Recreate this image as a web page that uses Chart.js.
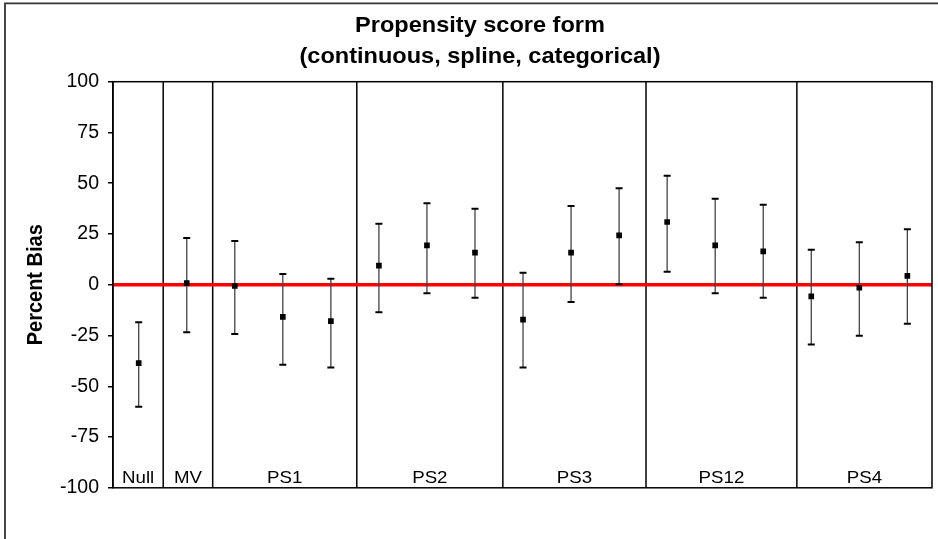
<!DOCTYPE html>
<html>
<head>
<meta charset="utf-8">
<script src="https://cdn.jsdelivr.net/npm/chart.js@4.4.1/dist/chart.umd.min.js"></script>
<style>
  html, body { margin: 0; padding: 0; background: #fff; }
  #wrap { width: 938px; height: 539px; position: relative; }
</style>
</head>
<body>
<div id="wrap"><canvas id="c" width="938" height="539"></canvas></div>
<script>
// Model groups and where the separators between them fall on the x axis
const groupNames = ['Null', 'MV', 'PS1', 'PS2', 'PS3', 'PS12', 'PS4'];
const groupEdges = [1.51, 2.54, 5.54, 8.58, 11.56, 14.70];

// Percent bias estimates with lower / upper interval limits, one per model fit
const estimate = [-38.6, 0.8, -0.6, -15.8, -17.9, 9.4, 19.4, 15.8, -17.2, 15.8, 24.3, 30.9, 19.4, 16.4, -5.7, -1.5, 4.4];
const lower    = [-60.1, -23.4, -24.3, -39.4, -40.7, -13.6, -4.2, -6.4, -40.7, -8.5, 0.2, 6.4, -4.2, -6.4, -29.4, -25.1, -19.2];
const upper    = [-18.5, 23.0, 21.5, 5.3, 3.0, 30.0, 40.1, 37.4, 5.9, 38.8, 47.5, 53.7, 42.4, 39.4, 17.2, 20.9, 27.3];

// Y axis tick values
const yTicks = [-100, -75, -50, -25, 0, 25, 50, 75, 100];

const titleLines = ['Propensity score form', '(continuous, spline, categorical)'];
const yTitle = 'Percent Bias';

const X_MIN = 0.465, X_MAX = 17.513;
const FONT = "'Liberation Sans', Arial, Helvetica, sans-serif";

const chartDecor = {
  id: 'chartDecor',
  beforeDraw(chart) {
    const c = chart.ctx;
    c.save();
    c.fillStyle = '#fff';
    c.fillRect(0, 0, chart.width, chart.height);
    c.restore();
  },
  beforeDatasetsDraw(chart) {
    const c = chart.ctx, a = chart.chartArea, xs = chart.scales.x;
    c.save();
    c.strokeStyle = '#000';
    c.lineWidth = 1.5;
    groupEdges.forEach(v => {
      const px = xs.getPixelForValue(v);
      c.beginPath();
      c.moveTo(px, a.top);
      c.lineTo(px, a.bottom);
      c.stroke();
    });
    c.restore();
  },
  afterDatasetDraw(chart, args) {
    if (args.index !== 0) return;
    // interval whiskers
    const c = chart.ctx, xs = chart.scales.x, ys = chart.scales.y;
    c.save();
    estimate.forEach((_, i) => {
      const px = xs.getPixelForValue(i + 1);
      const yl = ys.getPixelForValue(lower[i]);
      const yu = ys.getPixelForValue(upper[i]);
      c.strokeStyle = '#444';
      c.lineWidth = 1.3;
      c.beginPath();
      c.moveTo(px, yl);
      c.lineTo(px, yu);
      c.stroke();
      c.strokeStyle = '#000';
      c.lineWidth = 2;
      c.beginPath();
      c.moveTo(px - 3.5, yl); c.lineTo(px + 3.5, yl);
      c.moveTo(px - 3.5, yu); c.lineTo(px + 3.5, yu);
      c.stroke();
    });
    c.restore();
  },
  afterDraw(chart) {
    const c = chart.ctx, a = chart.chartArea, xs = chart.scales.x;
    c.save();
    // plot frame
    c.strokeStyle = '#000';
    c.lineWidth = 1.5;
    c.strokeRect(a.left, a.top, a.right - a.left, a.bottom - a.top);

    // outer chart frame
    c.strokeStyle = '#333';
    c.lineWidth = 1.8;
    c.beginPath();
    c.moveTo(5, chart.height);
    c.lineTo(5, 3.3);
    c.lineTo(chart.width, 3.3);
    c.stroke();

    c.fillStyle = '#000';
    // title
    c.font = 'bold 22px ' + FONT;
    c.textAlign = 'center';
    c.textBaseline = 'alphabetic';
    [31.7, 63.3].forEach((y, k) => {
      c.save();
      c.translate(480, y);
      c.scale(1.07, 1);
      c.fillText(titleLines[k], 0, 0);
      c.restore();
    });

    // y axis title
    c.save();
    c.font = 'bold 20px ' + FONT;
    c.translate(36.5, (a.top + a.bottom) / 2);
    c.scale(1.08, 1);
    c.rotate(-Math.PI / 2);
    c.textAlign = 'center';
    c.textBaseline = 'middle';
    c.fillText(yTitle, 0, 0);
    c.restore();

    // group labels along the bottom of each compartment
    const bounds = [X_MIN, ...groupEdges, X_MAX];
    c.font = '17px ' + FONT;
    groupNames.forEach((name, g) => {
      const cx = (xs.getPixelForValue(bounds[g]) + xs.getPixelForValue(bounds[g + 1])) / 2;
      c.save();
      c.translate(cx, a.bottom - 4.5);
      c.scale(1.1, 1);
      c.textAlign = 'center';
      c.fillText(name, 0, 0);
      c.restore();
    });
    c.restore();
  }
};

new Chart(document.getElementById('c'), {
  type: 'scatter',
  data: {
    datasets: [
      {
        type: 'line',
        data: [{ x: X_MIN, y: 0 }, { x: X_MAX, y: 0 }],
        borderColor: '#ff0000',
        borderWidth: 3.5,
        pointRadius: 0,
        order: 2
      },
      {
        data: estimate.map((v, i) => ({ x: i + 1, y: v })),
        pointStyle: 'rect',
        pointRadius: 4,
        backgroundColor: '#000',
        borderColor: '#000',
        borderWidth: 0,
        order: 0
      }
    ]
  },
  options: {
    responsive: false,
    animation: false,
    devicePixelRatio: 1,
    layout: { padding: { left: 0, right: 6, top: 81.7, bottom: 51.2 } },
    plugins: { legend: { display: false }, tooltip: { enabled: false } },
    scales: {
      x: { type: 'linear', min: X_MIN, max: X_MAX, display: false },
      y: {
        min: -100,
        max: 100,
        afterBuildTicks(s) { s.ticks = yTicks.map(v => ({ value: v })); },
        afterFit(s) { s.width = 113; },
        ticks: { color: '#000', font: { family: FONT, size: 19.5 }, padding: 9 },
        grid: { drawOnChartArea: false, drawTicks: true, tickLength: 5, color: '#000', lineWidth: 1.5 },
        border: { display: true, color: '#000', width: 1.5 }
      }
    }
  },
  plugins: [chartDecor]
});
</script>
</body>
</html>
